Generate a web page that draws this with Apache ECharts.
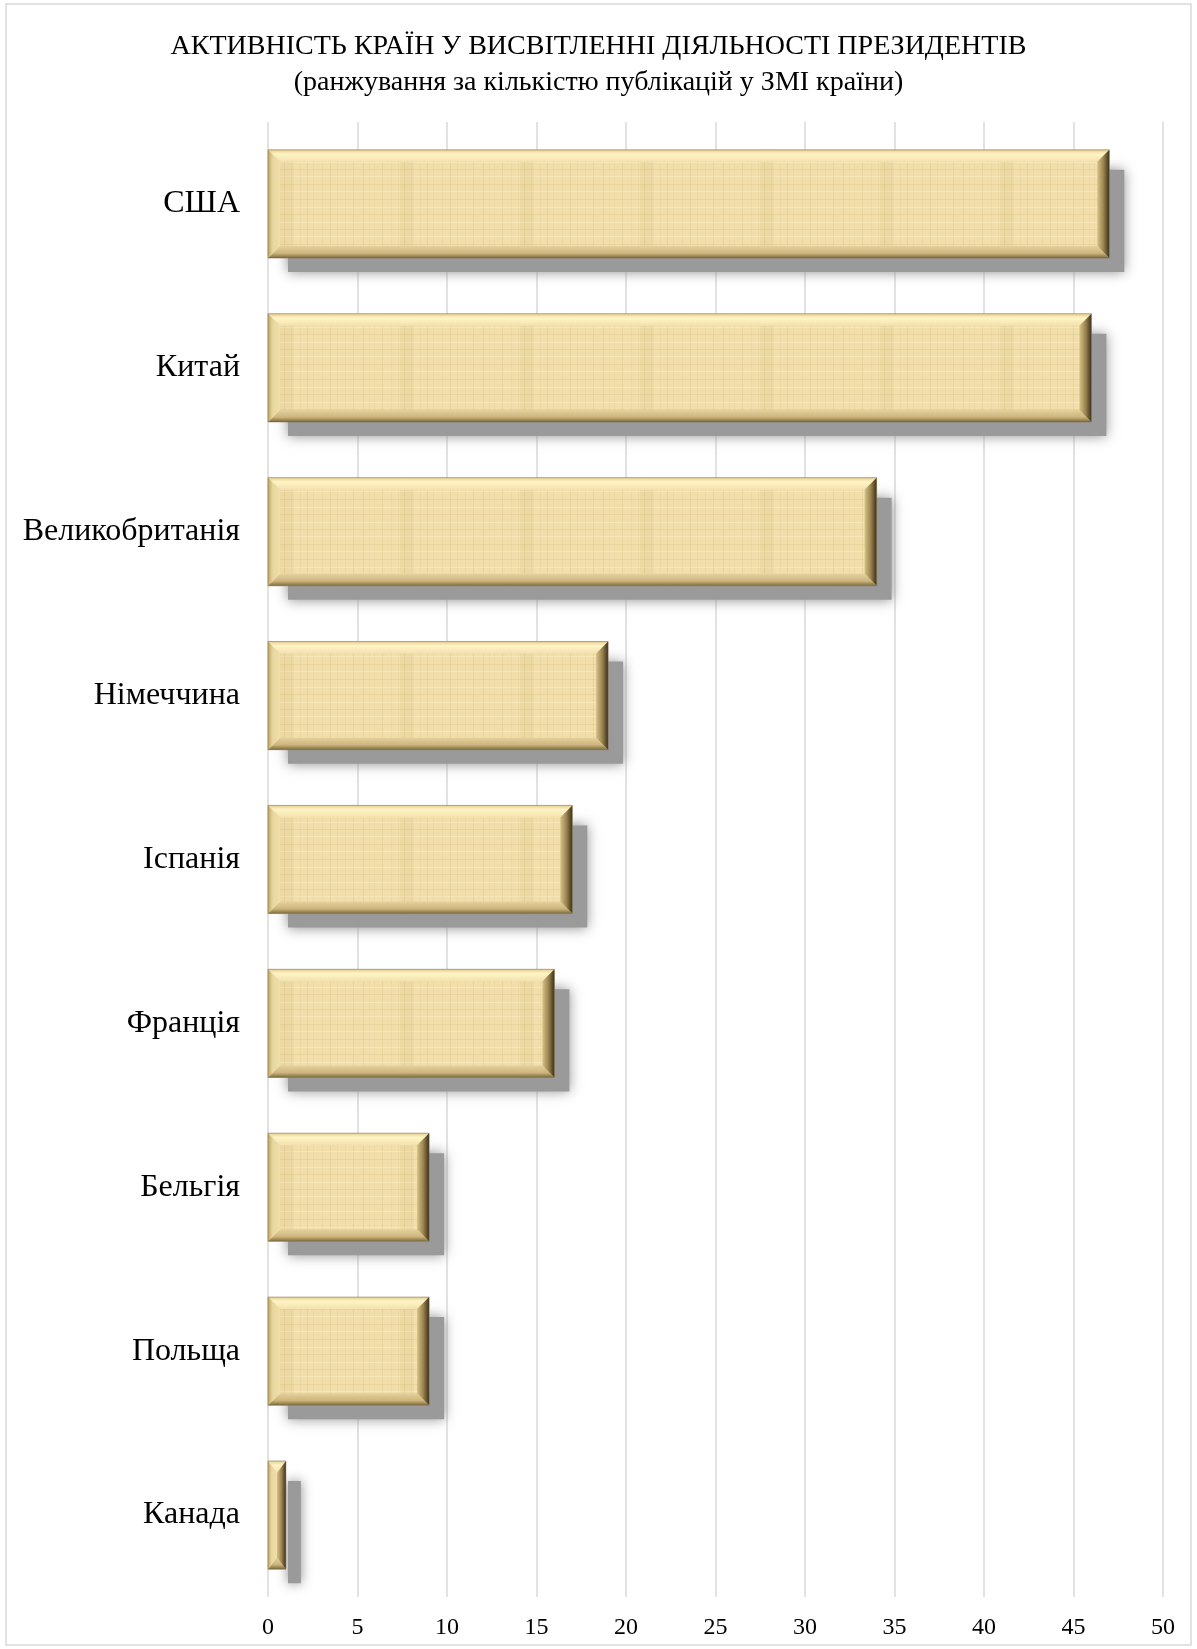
<!DOCTYPE html>
<html><head><meta charset="utf-8">
<script src="https://cdn.jsdelivr.net/npm/echarts@6/dist/echarts.min.js"></script>
<style>html,body{margin:0;padding:0;background:#fff}#c{width:1197px;height:1649px}</style>
</head><body><div id="c"></div>
<script>
const titleLine1 = 'АКТИВНІСТЬ КРАЇН У ВИСВІТЛЕННІ ДІЯЛЬНОСТІ ПРЕЗИДЕНТІВ';
const titleLine2 = '(ранжування за кількістю публікацій у ЗМІ країни)';
const categories = ['США', 'Китай', 'Великобританія', 'Німеччина', 'Іспанія', 'Франція', 'Бельгія', 'Польща', 'Канада'];
const values = [47, 46, 34, 19, 17, 16, 9, 9, 1];
const xTicks = [0, 5, 10, 15, 20, 25, 30, 35, 40, 45, 50];

// parchment-like texture (regular faint lines)
const tex = document.createElement('canvas');
tex.width = 120; tex.height = 60;
(function(){
  const g = tex.getContext('2d');
  g.fillStyle = '#f1deaa'; g.fillRect(0,0,120,60);
  const vx = [3,9,14,22,31,38,44,51,60,67,73,82,90,97,105,113];
  vx.forEach((x,i)=>{ g.fillStyle = i%3===0 ? 'rgba(190,160,90,0.18)' : 'rgba(200,175,110,0.12)'; g.fillRect(x,0,1,60); });
  const hy = [4,11,19,27,34,42,49,56];
  hy.forEach((y,i)=>{ g.fillStyle = i%2===0 ? 'rgba(190,160,90,0.15)' : 'rgba(255,245,215,0.35)'; g.fillRect(0,y,120,1); });
  g.fillStyle = 'rgba(200,170,100,0.10)'; g.fillRect(40,0,14,60);
})();

const chart = echarts.init(document.getElementById('c'), null, {renderer: 'canvas'});

function renderBar(params, api) {
  const idx = api.value(0), val = api.value(1);
  const p0 = api.coord([0, idx]);
  const p1 = api.coord([val, idx]);
  const band = api.size([0, 1])[1];
  const h = band * 0.66;
  const x0 = p0[0], x1 = p1[0], yc = p0[1];
  const y0 = yc - h / 2, y1 = yc + h / 2;
  const w = x1 - x0;
  const b = Math.min(12, w / 2);
  const bv = Math.min(12, h / 2);
  return {
    type: 'group',
    children: [
      { type: 'rect', shape: {x: x0 + 20, y: y0 + 20, width: Math.max(w - 5, 4), height: h - 6},
        style: {fill: '#9a9a9a', shadowBlur: 12, shadowColor: '#8c8c8c'} },
      { type: 'rect', shape: {x: x0, y: y0, width: w, height: h},
        style: {fill: {image: tex, repeat: 'repeat'}} },
      // top bevel
      { type: 'polygon', shape: {points: [[x0,y0],[x1,y0],[x1-b,y0+bv],[x0+b,y0+bv]]},
        style: {fill: new echarts.graphic.LinearGradient(0,0,0,1,[
          {offset:0,color:'#e6cf92'},{offset:0.35,color:'#fff4c6'},{offset:1,color:'#f3e1ad'}])} },
      // bottom bevel
      { type: 'polygon', shape: {points: [[x0,y1],[x1,y1],[x1-b,y1-bv],[x0+b,y1-bv]]},
        style: {fill: new echarts.graphic.LinearGradient(0,0,0,1,[
          {offset:0,color:'#e5d19e'},{offset:0.6,color:'#cdb57c'},{offset:1,color:'#7d6a3c'}])} },
      // left bevel
      { type: 'polygon', shape: {points: [[x0,y0],[x0+b,y0+bv],[x0+b,y1-bv],[x0,y1]]},
        style: {fill: new echarts.graphic.LinearGradient(0,0,1,0,[
          {offset:0,color:'#bfa66a'},{offset:0.4,color:'#e9d69f'},{offset:1,color:'#f0dfaa'}])} },
      // right bevel
      { type: 'polygon', shape: {points: [[x1,y0],[x1-b,y0+bv],[x1-b,y1-bv],[x1,y1]]},
        style: {fill: new echarts.graphic.LinearGradient(0,0,1,0,[
          {offset:0,color:'#d6c188'},{offset:0.5,color:'#9c8550'},{offset:1,color:'#3a301c'}])} },
      { type: 'rect', shape: {x: x0, y: y0, width: w, height: h},
        style: {fill: 'none', stroke: 'rgba(120,100,55,0.5)', lineWidth: 1} }
    ]
  };
}

chart.setOption({
  backgroundColor: '#fff',
  animation: false,
  title: {
    text: titleLine1 + '\n' + titleLine2,
    left: 'center', top: 24,
    textStyle: {fontFamily: 'Liberation Serif', fontSize: 28, fontWeight: 'normal', color: '#000', lineHeight: 36}
  },
  graphic: [{type: 'rect', shape: {x: 6, y: 4, width: 1185, height: 1641}, style: {fill: 'none', stroke: '#d9d9d9', lineWidth: 1.5}, silent: true}],
  grid: {left: 268, right: 34, top: 122, bottom: 52, containLabel: false},
  xAxis: {
    type: 'value', min: 0, max: 50, interval: 5,
    axisLine: {show: false}, axisTick: {show: false},
    axisLabel: {fontFamily: 'Liberation Serif', fontSize: 24, color: '#000', margin: 19,
      formatter: v => xTicks.includes(v) ? String(v) : ''},
    splitLine: {show: true, lineStyle: {color: '#d9d9d9', width: 1.5}}
  },
  yAxis: {
    type: 'category', data: categories, inverse: true,
    axisLine: {show: false}, axisTick: {show: false},
    axisLabel: {fontFamily: 'Liberation Serif', fontSize: 32, color: '#000', margin: 28},
    splitLine: {show: false}
  },
  series: [{
    type: 'custom',
    renderItem: renderBar,
    encode: {x: 1, y: 0},
    data: values.map((v, i) => [i, v]),
    clip: false
  }]
});
</script></body></html>
